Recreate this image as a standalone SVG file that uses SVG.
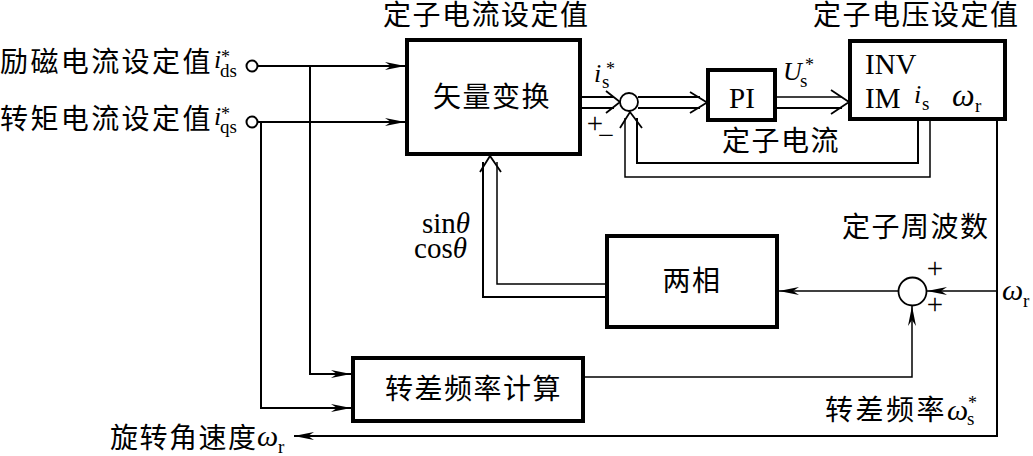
<svg xmlns="http://www.w3.org/2000/svg" width="1033" height="456" viewBox="0 0 1033 456">
<defs>
<style>
.box{fill:#fff;stroke:#000;stroke-width:4}
.ln{fill:none;stroke:#000;stroke-width:2}
.thin{fill:none;stroke:#000;stroke-width:1.5}
.chev{fill:none;stroke:#000;stroke-width:1.8}
.cj{font-family:"Liberation Serif","Noto Sans CJK SC",serif;font-size:28px;letter-spacing:1.5px;fill:#000}
.lat{font-family:"Liberation Serif",serif;font-size:29px;fill:#000}
.it{font-family:"Liberation Serif",serif;font-style:italic;fill:#000}
.sub{font-size:19px;font-style:normal}
.sup{font-size:18px;font-style:normal}
</style>
<marker id="arr" markerWidth="20" markerHeight="10" refX="20" refY="5" orient="auto" markerUnits="userSpaceOnUse" viewBox="0 0 20 10">
<path d="M20,5 L0,1 L6,5 L0,9 Z" fill="#000"/>
</marker>
</defs>
<rect width="1033" height="456" fill="#fff"/>

<g id="connectors">
<path class="ln" d="M258,66 H405" marker-end="url(#arr)"/>
<path class="ln" d="M258,122 H405" marker-end="url(#arr)"/>
<path class="ln" d="M310,66 V374 H351" marker-end="url(#arr)"/>
<path class="ln" d="M261,122 V408 H351" marker-end="url(#arr)"/>
<path class="ln" d="M582,97 H614"/>
<path class="ln" d="M582,108 H614"/>
<polyline class="chev" points="606,91 620,102 606,113"/>
<path class="ln" d="M638,97 H700"/>
<path class="ln" d="M638,108 H700"/>
<polyline class="chev" points="690,92 707,102.5 690,113"/>
<path class="thin" d="M777,97 H842"/>
<path class="ln" d="M777,108 H842"/>
<polyline class="chev" points="831,90 849,102 831,114"/>
<path class="ln" d="M918,121 V163 H637 V118"/>
<path class="thin" d="M930,121 V177 H625 V118"/>
<polyline class="chev" points="620,128 630,112 642,128"/>
<path class="ln" d="M605,297 H483 V162"/>
<path class="thin" d="M605,284 H497 V162"/>
<polyline class="chev" points="480,172 490,156 501,172"/>
<path class="thin" d="M898,291 H779" marker-end="url(#arr)"/>
<path class="thin" d="M997,291 H927" marker-end="url(#arr)"/>
<path class="ln" d="M997,120 V436 H294" marker-end="url(#arr)"/>
<path class="thin" d="M584,377 H912 V306" marker-end="url(#arr)"/>
</g>

<g id="input-ids">
<circle cx="252" cy="66" r="5.5" fill="#fff" stroke="#000" stroke-width="2"/>
<text class="cj" x="0" y="72" style="letter-spacing:2.4px">励磁电流设定值</text>
<text class="it" font-size="26"><tspan x="214" y="68">i</tspan><tspan class="sup" x="221" y="63">*</tspan><tspan class="sub" x="220" y="77">ds</tspan></text>
</g>

<g id="input-iqs">
<circle cx="252" cy="122" r="5.5" fill="#fff" stroke="#000" stroke-width="2"/>
<text class="cj" x="0" y="129" style="letter-spacing:2.4px">转矩电流设定值</text>
<text class="it" font-size="26"><tspan x="214" y="125">i</tspan><tspan class="sup" x="221" y="120">*</tspan><tspan class="sub" x="220" y="133">qs</tspan></text>
</g>

<g id="vector-transform">
<rect class="box" x="407" y="40" width="173" height="114"/>
<text class="cj" x="433" y="107">矢量变换</text>
<text class="cj" x="383" y="25">定子电流设定值</text>
<text class="it" font-size="26"><tspan x="594" y="82">i</tspan><tspan class="sup" x="606" y="75">*</tspan><tspan class="sub" x="602" y="88">s</tspan></text>
</g>

<g id="sum-current">
<circle cx="629" cy="102" r="9" fill="#fff" stroke="#000" stroke-width="1.8"/>
<text class="lat" x="595" y="133" font-size="26" text-anchor="middle">+</text>
<text class="lat" x="606" y="145" font-size="26" text-anchor="middle">−</text>
<text class="cj" x="722" y="151">定子电流</text>
</g>

<g id="pi">
<rect class="box" x="708" y="70" width="67" height="50"/>
<text class="lat" x="742" y="108" text-anchor="middle">PI</text>
<text class="it" font-size="26"><tspan x="783" y="80">U</tspan><tspan class="sup" x="805" y="71">*</tspan><tspan class="sub" x="800" y="87">s</tspan></text>
</g>

<g id="inv-im">
<rect class="box" x="850" y="41" width="155" height="78"/>
<text class="cj" x="813" y="25">定子电压设定值</text>
<text class="lat" x="865" y="74">INV</text>
<text class="lat" x="865" y="108">IM</text>
<text class="it" font-size="26"><tspan x="914" y="103">i</tspan><tspan class="sub" x="922" y="110">s</tspan></text>
<text class="it" font-size="32"><tspan x="952" y="106">ω</tspan><tspan class="sub" x="975" y="112">r</tspan></text>
</g>

<g id="sincos">
<text class="lat" x="470" y="233" font-size="26" text-anchor="end">sin<tspan font-style="italic">θ</tspan></text>
<text class="lat" x="467" y="258" font-size="26" text-anchor="end">cos<tspan font-style="italic">θ</tspan></text>
</g>

<g id="two-phase">
<rect class="box" x="607" y="236" width="170" height="91"/>
<text class="cj" x="692" y="291" text-anchor="middle">两相</text>
</g>

<g id="sum-freq">
<circle cx="912.5" cy="291.5" r="14" fill="#fff" stroke="#000" stroke-width="1.8"/>
<text class="lat" x="935" y="278" font-size="24" text-anchor="middle">+</text>
<text class="lat" x="935" y="314" font-size="24" text-anchor="middle">+</text>
<text class="cj" x="842" y="237">定子周波数</text>
<text class="it" font-size="30"><tspan x="1002" y="300">ω</tspan><tspan class="sub" x="1023" y="307">r</tspan></text>
</g>

<g id="slip-calc">
<rect class="box" x="353" y="358" width="230" height="63"/>
<text class="cj" x="385" y="399">转差频率计算</text>
<text class="cj" x="825" y="420" style="letter-spacing:2.5px">转差频率</text>
<text class="it" font-size="30"><tspan x="947" y="420">ω</tspan><tspan class="sup" x="968" y="409">*</tspan><tspan class="sub" x="967" y="425">s</tspan></text>
</g>

<g id="output-speed">
<text class="cj" x="110" y="448">旋转角速度</text>
<text class="it" font-size="30"><tspan x="257" y="446">ω</tspan><tspan class="sub" x="278" y="453">r</tspan></text>
</g>
</svg>
